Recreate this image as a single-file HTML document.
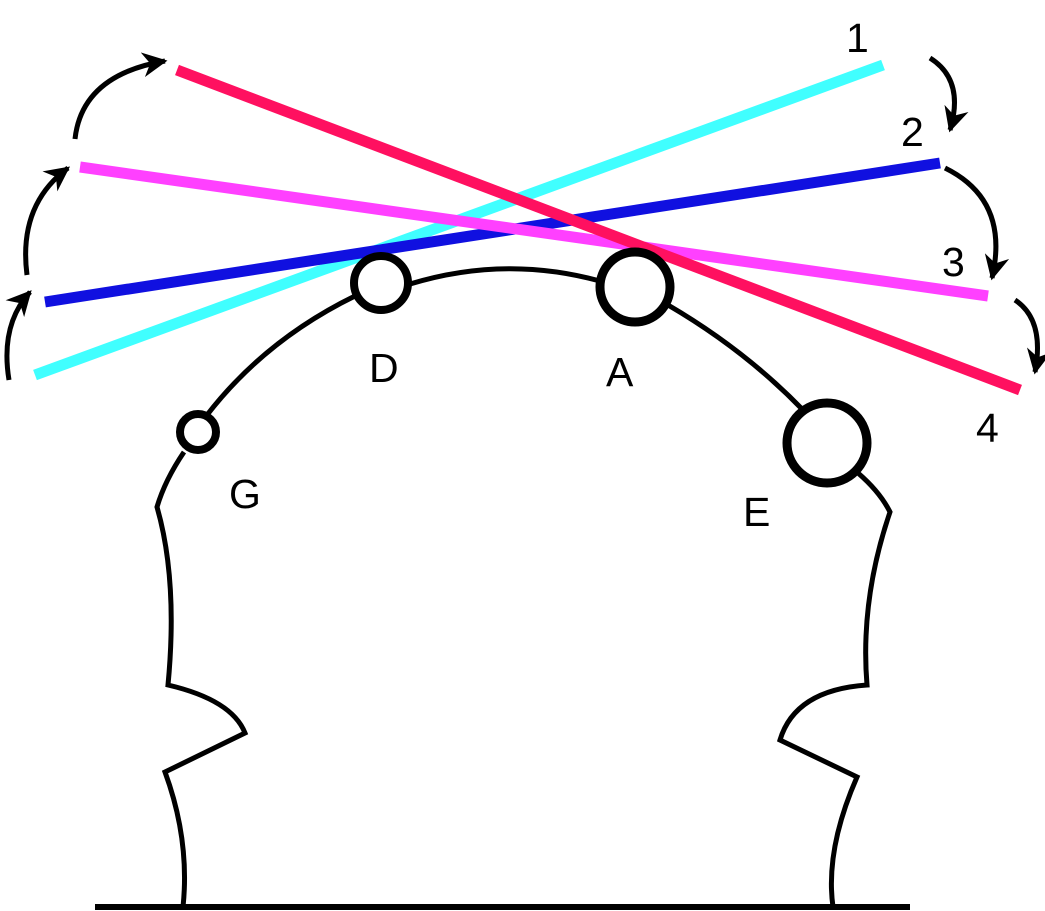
<!DOCTYPE html>
<html><head><meta charset="utf-8"><style>
html,body{margin:0;padding:0;background:#fff;}
svg{display:block;}
text{font-family:"Liberation Sans",sans-serif;font-size:41px;fill:#000;}
</style></head><body>
<svg width="1045" height="911" viewBox="0 0 1045 911">
<defs>
<marker id="ah" viewBox="0 0 10 10" refX="9" refY="5" markerWidth="5" markerHeight="5" orient="auto-start-reverse" markerUnits="strokeWidth">
<path d="M0,0 L10,5 L0,10 L3,5 Z" fill="#000"/>
</marker>
</defs>
<g fill="none" stroke="#000" stroke-width="5" stroke-linejoin="miter">
<path d="M184,452 Q165,480 157,507 Q178,580 168,685 Q232,700 245,733 L165,772 Q190,840 183,907"/>
<path d="M207,415 Q265,340 355,296"/>
<path d="M410,284 Q505,255 600,281"/>
<path d="M668,305 Q745,350 803,410"/>
<path d="M858,473 Q880,492 890,512 Q860,600 867,685 Q795,690 780,740 L857,777 Q825,850 833,907"/>
</g>
<line x1="95" y1="907" x2="910" y2="907" stroke="#000" stroke-width="6"/>
<g stroke-width="11" stroke-linecap="butt">
<line x1="35" y1="375" x2="883" y2="65" stroke="#40FFFF"/>
<line x1="45" y1="302" x2="940" y2="163" stroke="#1010E0"/>
<line x1="80" y1="167" x2="988" y2="296" stroke="#FF40FF"/>
<line x1="177" y1="70" x2="1020" y2="390" stroke="#FF1060"/>
</g>
<g fill="#fff" stroke="#000">
<circle cx="198" cy="432" r="18" stroke-width="8"/>
<circle cx="381" cy="283" r="27" stroke-width="8"/>
<circle cx="635" cy="287" r="35" stroke-width="9"/>
<circle cx="827" cy="443" r="40" stroke-width="9"/>
</g>
<g fill="none" stroke="#000" stroke-width="5" marker-end="url(#ah)">
<path d="M9,380 Q0,325 30,292"/>
<path d="M27,275 Q18,205 68,168"/>
<path d="M75,139 Q82,75 165,61"/>
<path d="M930,58 Q965,80 950,130"/>
<path d="M945,168 Q1010,200 992,278"/>
<path d="M1015,300 Q1045,320 1035,372"/>
</g>
<g>
<text x="846" y="52">1</text>
<text x="901" y="146">2</text>
<text x="942" y="276">3</text>
<text x="976" y="442">4</text>
<text x="369" y="382">D</text>
<text x="606" y="386">A</text>
<text x="229" y="508">G</text>
<text x="743" y="526">E</text>
</g>
</svg>
</body></html>
